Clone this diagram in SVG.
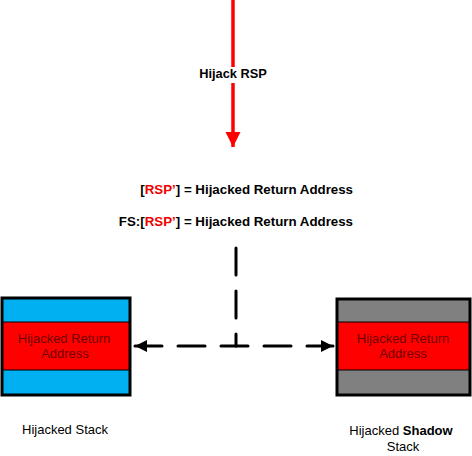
<svg xmlns="http://www.w3.org/2000/svg" width="472" height="456" viewBox="0 0 472 456">
<style>
text{font-family:"Liberation Sans",Arial,sans-serif;font-size:13px}
.b{font-weight:bold;font-size:13.3px}
.in{fill:#700000;text-anchor:middle}
.lbl{fill:#000;text-anchor:middle}
.frame{fill:none;stroke:#000;stroke-width:3}
.band{stroke:#000;stroke-width:1}
.dash{fill:none;stroke:#000;stroke-width:3;stroke-dasharray:27 16;stroke-linecap:round}
</style>
<defs>
<marker id="ah" viewBox="0 0 10 10" refX="10" refY="5" markerWidth="14" markerHeight="12" markerUnits="userSpaceOnUse" orient="auto-start-reverse">
<path d="M0,0L10,5L0,10z" fill="#000"/>
</marker>
<marker id="rh" viewBox="0 0 10 10" refX="10" refY="5" markerWidth="15" markerHeight="16" markerUnits="userSpaceOnUse" orient="auto">
<path d="M0,0L10,5L0,10z" fill="#f00"/>
</marker>
</defs>
<g id="connectors">
<line x1="233" y1="0" x2="233" y2="67" stroke="#f00" stroke-width="3.5"/>
<line x1="233" y1="83" x2="233" y2="147" stroke="#f00" stroke-width="3.5" marker-end="url(#rh)"/>
<path class="dash" d="M236,248V346"/>
<path class="dash" d="M135,346H333" marker-start="url(#ah)" marker-end="url(#ah)"/>
</g>
<g id="hijack-label">
<text class="b" x="233" y="78" text-anchor="middle" style="font-size:12.8px">Hijack RSP</text>
</g>
<g id="equations">
<text class="b" x="353" y="194" text-anchor="end"><tspan fill="#000">[</tspan><tspan fill="#e00">RSP’</tspan><tspan fill="#000">] = Hijacked Return Address</tspan></text>
<text class="b" x="353" y="226" text-anchor="end"><tspan fill="#000">FS:[</tspan><tspan fill="#e00">RSP’</tspan><tspan fill="#000">] = Hijacked Return Address</tspan></text>
</g>
<g id="stack">
<rect x="2" y="298" width="128" height="97" fill="#00b0f0"/>
<rect class="band" x="2" y="322" width="128" height="48" fill="#f00"/>
<rect class="frame" x="2" y="298" width="128" height="97"/>
<text class="in" x="64" y="343">Hijacked Return</text>
<text class="in" x="65" y="358">Address</text>
<text class="lbl" x="65" y="434">Hijacked Stack</text>
</g>
<g id="shadow-stack">
<rect x="337" y="299" width="133" height="96" fill="#808080"/>
<rect class="band" x="337" y="322" width="133" height="48" fill="#f00"/>
<rect class="frame" x="337" y="299" width="133" height="96"/>
<text class="in" x="403" y="343">Hijacked Return</text>
<text class="in" x="403" y="358">Address</text>
<text class="lbl" x="401" y="435">Hijacked <tspan font-weight="bold">Shadow</tspan></text>
<text class="lbl" x="403" y="451">Stack</text>
</g>
</svg>
